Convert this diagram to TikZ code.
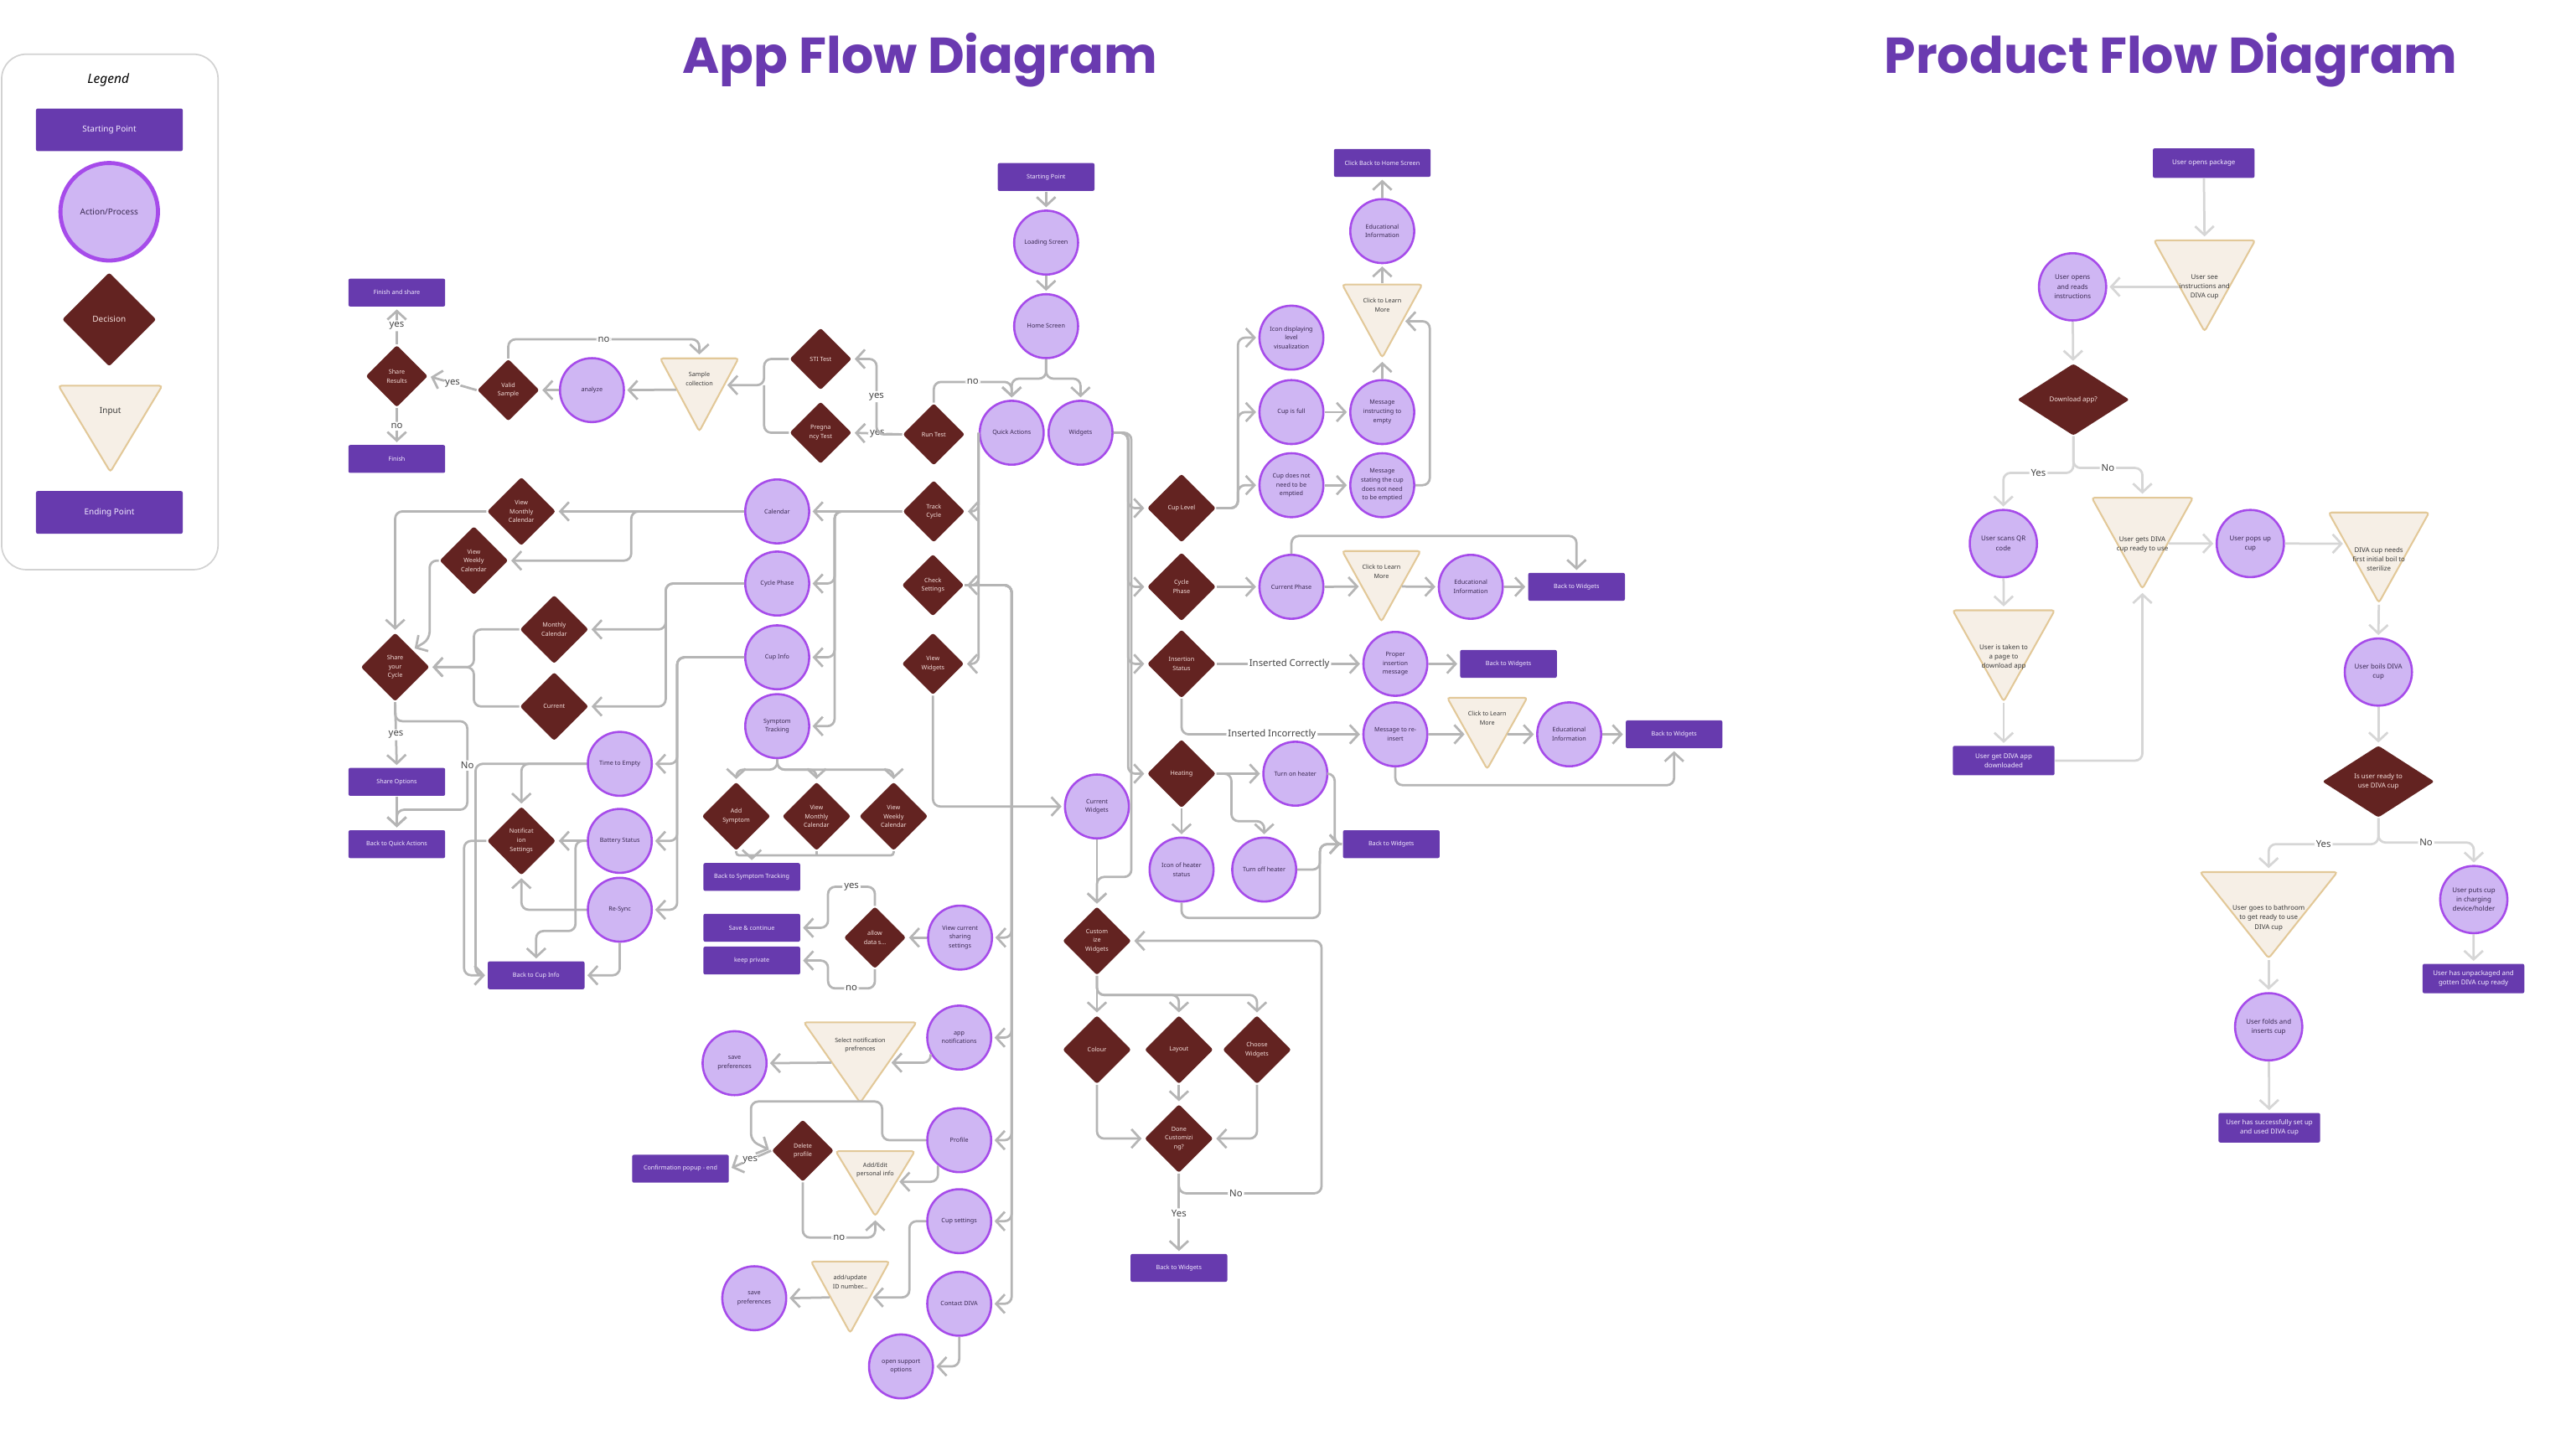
\documentclass[tikz,border=0pt]{standalone}
\usepackage{fontspec}
\setmainfont{Noto Sans}
\newfontfamily\ttlfont{Poppins}
\usetikzlibrary{positioning,arrows.meta,shapes.geometric,calc}
\definecolor{afttl}{HTML}{6A3AB0}
\definecolor{afpurple}{HTML}{673AAE}
\definecolor{afpurpleT}{HTML}{F3ECFF}
\definecolor{afcirc}{HTML}{CFB6F3}
\definecolor{afcircB}{HTML}{A64BEA}
\definecolor{afcircT}{HTML}{3A2A52}
\definecolor{afdec}{HTML}{632321}
\definecolor{afdecT}{HTML}{F4DFDB}
\definecolor{aftri}{HTML}{F6EFE6}
\definecolor{aftriB}{HTML}{E2C898}
\definecolor{aftriT}{HTML}{3A3A3A}
\definecolor{afline}{HTML}{B5B5B5}
\definecolor{pfline}{HTML}{D6D6D6}
\definecolor{aflbl}{HTML}{444444}
\definecolor{lgdB}{HTML}{D2D2D2}

\begin{document}
\begin{tikzpicture}[x=0.02cm, y=-0.02cm,
      font=\fontsize{2.1}{3.1}\selectfont,
      ttl/.style={font=\ttlfont\bfseries\fontsize{17.5}{20}\selectfont, text=afttl},
      endpt/.style={fill=afpurple, text=afpurpleT, minimum width=1.18cm, minimum height=0.34cm,
                    inner sep=0.5pt, align=center, rounded corners=0.6pt},
      act/.style={circle, draw=afcircB, fill=afcirc, line width=0.75pt, minimum size=0.78cm,
                  inner sep=0pt, align=center, text=afcircT},
      dec/.style={diamond, fill=afdec, text=afdecT, minimum size=0.76cm, inner sep=0pt,
                  align=center, rounded corners=0.8pt},
      decL/.style={dec, minimum size=0.84cm},
      inp/.style={rectangle, inner sep=0pt,
                  path picture={\path[draw=aftriB, fill=aftri, line width=0.6pt, rounded corners=1pt]
                    ([shift={(0.35pt,-0.35pt)}]path picture bounding box.north west)
                    -- ([shift={(-0.35pt,-0.35pt)}]path picture bounding box.north east)
                    -- ([yshift=0.45pt]path picture bounding box.south) -- cycle;}},
      inpt/.style={anchor=center, yshift=-0.27cm, align=center, inner sep=0pt, text=aftriT},
      lnk/.style={draw=afline, line width=0.8pt, rounded corners=2.5pt},
      arr/.style={lnk, -{Straight Barb[length=3pt,width=6.5pt]}, shorten >=0.8pt},
      lbl/.style={fill=white, inner sep=0.6pt, text=aflbl, font=\fontsize{3.3}{4}\selectfont},
      pfont/.style={font=\fontsize{2.3}{3.3}\selectfont},
      pend/.style={endpt, pfont, minimum width=1.24cm, minimum height=0.36cm},
      pact/.style={act, pfont, minimum size=0.82cm},
      pdec/.style={dec, pfont, minimum width=1.37cm, minimum height=0.88cm, aspect=1.55},
      pinpt/.style={inpt, pfont, yshift=-0.32cm},
      parr/.style={arr, draw=pfline},
      lgd/.style={font=\fontsize{2.9}{3.5}\selectfont}
    ]
    \useasboundingbox (0,0) rectangle (1568,888);

    % ------------- Legend -------------
    \node[draw=lgdB, line width=0.5pt, rounded corners=0.3cm, minimum width=2.64cm,
          minimum height=6.29cm] (lgdbox) at (67,190.3) {};
    \node[font=\itshape\fontsize{4.5}{5}\selectfont] (lgdttl) at (66,48.7) {Legend};
    \node[endpt, lgd, minimum width=1.79cm, minimum height=0.52cm] (lsp) at (66.7,79.2) {Starting Point};
    \node[act, lgd, minimum size=1.19cm, line width=1.4pt] (lap) at (66.6,129.2) {Action/Process};
    \node[dec, lgd, minimum size=1.15cm] (ldc) at (66.6,194.9) {Decision};
    \node[inp, minimum width=1.29cm, minimum height=1.08cm,
          label={[inpt, lgd, yshift=-0.06cm]north:Input}] (lin) at (67.3,261.7) {};
    \node[endpt, lgd, minimum width=1.79cm, minimum height=0.52cm] (lep) at (66.7,312.6) {Ending Point};

    % ------------- Titles -------------
    \node[ttl] (ttlapp) at (561,36.5) {App Flow Diagram};
    \node[ttl] (ttlprod) at (1324,36.5) {Product Flow Diagram};

    % ------------- App flow: start -------------
    \node[endpt] (start) at (638,108) {Starting Point};
    \node[act] (load) at (638,148) {Loading Screen};
    \node[act] (home) at (638,199) {Home Screen};
    \node[act] (qa) at (617,264) {Quick Actions};
    \node[act] (wid) at (659,264) {Widgets};
    \draw[arr] (start) -- (load);
    \draw[arr] (load) -- (home);
    \draw[arr] (home.south) -- (638,231) -| (qa.north);
    \draw[arr] (home.south) -- (638,231) -| (wid.north);

    % ------------- Run test -------------
    \node[dec] (run) at (569.5,265) {Run Test};
    \node[dec] (sti) at (500.5,219) {STI Test};
    \node[dec] (preg) at (500.5,264) {Pregna\\ncy Test};
    \node[inp, minimum width=0.98cm, minimum height=0.92cm,
          label={[inpt]north:Sample\\collection}] (smp) at (426.5,241) {};
    \node[act] (ana) at (361,238) {analyze};
    \node[dec] (vs) at (310,238) {Valid\\Sample};
    \node[dec] (sr) at (242,229.5) {Share\\Results};
    \node[endpt] (fs) at (242,178.5) {Finish and share};
    \node[endpt] (fin) at (242,280) {Finish};
    \draw[arr] (run.north) |- node[lbl, pos=0.75] {no} (617,233) -- (qa.north);
    \draw[arr] (run.west) -- node[lbl] {yes} (preg.east);
    \draw[arr] (run.west) -- (534.6,265) -- node[lbl] {yes} (534.6,219) -- (sti.east);
    \draw[lnk] (preg.west) -| (466,235);
    \draw[arr] (sti.west) -| (466,235) -- ($(smp.north east)!0.37!(smp.south)$);
    \draw[arr] ($(smp.north west)!0.43!(smp.south)$) -- (ana.east);
    \draw[arr] (ana) -- (vs);
    \draw[arr] (vs.west) -- node[lbl] {yes} (sr.east);
    \draw[arr] (vs.north) |- node[lbl, pos=0.75] {no} (426.5,207) -- (smp.north);
    \draw[arr] (sr.north) -- node[lbl] {yes} (fs.south);
    \draw[arr] (sr.south) -- node[lbl] {no} (fin.north);

    % ------------- Quick actions -------------
    \node[dec] (tc) at (569.5,312) {Track\\Cycle};
    \node[dec] (cs) at (569,357) {Check\\Settings};
    \node[dec] (vw) at (569,405) {View\\Widgets};
    \draw[arr] (qa.west) |- (tc.east);
    \draw[arr] (qa.west) |- (cs.east);
    \draw[arr] (qa.west) |- (vw.east);

    % ------------- Track cycle -------------
    \node[act] (cal) at (474,312) {Calendar};
    \node[act] (cph) at (474,356) {Cycle Phase};
    \node[act] (ci) at (474,401) {Cup Info};
    \node[act] (st) at (474,443) {Symptom\\Tracking};
    \draw[arr] (tc.west) -- (cal.east);
    \draw[arr] (tc.west) -| (509,356) -- (cph.east);
    \draw[arr] (tc.west) -| (509,401) -- (ci.east);
    \draw[arr] (tc.west) -| (509,443) -- (st.east);

    \node[decL] (vmc) at (318,312) {View\\Monthly\\Calendar};
    \node[decL] (vwc) at (289,342) {View\\Weekly\\Calendar};
    \node[decL] (mc) at (338,384) {Monthly\\Calendar};
    \node[decL] (cur) at (338,431) {Current};
    \node[decL] (syc) at (241,407) {Share\\your\\Cycle};
    \node[endpt] (so) at (242,477) {Share Options};
    \node[endpt] (bqa) at (242,515) {Back to Quick Actions};
    \draw[arr] (cal.west) -- (vmc.east);
    \draw[arr] (cal.west) -| (385,342) -- (vwc.east);
    \draw[arr] (vmc.west) -| (syc.north);
    \draw[arr] (vwc.west) -| (262,390) -- (syc.north east);
    \draw[arr] (cph.west) -| (406,384) -- (mc.east);
    \draw[arr] (cph.west) -| (406,431) -- (cur.east);
    \draw[arr] (mc.west) -| (289,407) -- (syc.east);
    \draw[arr] (cur.west) -| (289,407) -- (syc.east);
    \draw[arr] (syc.south) -- node[lbl] {yes} (so.north);
    \draw[arr] (syc.south) |- (285,440) -- node[lbl] {No} (285,494) -| (bqa.north);
    \draw[arr] (so) -- (bqa);

    % ------------- Cup info -------------
    \node[act] (tte) at (378,466) {Time to Empty};
    \node[act] (bat) at (378,513) {Battery Status};
    \node[act] (rsy) at (378,555) {Re-Sync};
    \node[decL] (ns) at (318,513) {Notificat\\ion\\Settings};
    \node[endpt] (bci) at (327,595) {Back to Cup Info};
    \draw[arr] (ci.west) -| (413,466) -- (tte.east);
    \draw[arr] (ci.west) -| (413,513) -- (bat.east);
    \draw[arr] (ci.west) -| (413,555) -- (rsy.east);
    \draw[arr] (tte.west) -| (ns.north);
    \draw[arr] (tte.west) -| (290,595) -- (bci.west);
    \draw[arr] (ns.west) -| (283,595) -- (bci.west);
    \draw[arr] (bat.west) -- (ns.east);
    \draw[arr] (bat.west) -| (351,568) -| (bci.north);
    \draw[arr] (rsy.west) -| (ns.south);
    \draw[arr] (rsy.south) |- (bci.east);

    % ------------- Symptom tracking -------------
    \node[decL] (as) at (449,498) {Add\\Symptom};
    \node[decL] (svm) at (498,498) {View\\Monthly\\Calendar};
    \node[decL] (svw) at (545,498) {View\\Weekly\\Calendar};
    \node[endpt] (bst) at (458.5,535) {Back to Symptom Tracking};
    \coordinate (bstj) at (458.5,521.5);
    \draw[arr] (st.south) -- (474,469.5) -| (as.north);
    \draw[arr] (st.south) -- (474,469.5) -| (svm.north);
    \draw[arr] (st.south) -- (474,469.5) -| (svw.north);
    \draw[lnk, rounded corners=1pt] (as.south) -- ++(0,2.5) -| (svw.south);
    \draw[lnk, rounded corners=1pt] (svm.south) -- ++(0,2.5);
    \draw[arr] (bstj) -- (bst.north);

    % ------------- Check settings -------------
    \node[act] (vcs) at (585.5,572) {View current\\sharing\\settings};
    \node[dec] (ads) at (533.6,572) {allow\\data s...};
    \node[endpt] (sac) at (458.5,566) {Save \& continue};
    \node[endpt] (kp) at (458.5,586) {keep private};
    \node[act] (an) at (585,633) {app\\notifications};
    \node[inp, minimum width=1.4cm, minimum height=1.01cm,
          label={[inpt, yshift=-0.03cm]north:Select notification\\prefrences}] (snp) at (524.6,648.3) {};
    \node[act] (sp1) at (448,648.6) {save\\preferences};
    \node[act] (pr) at (585,695.6) {Profile};
    \node[dec] (dp) at (489.6,702) {Delete\\profile};
    \node[inp, minimum width=0.99cm, minimum height=0.82cm,
          label={[inpt, yshift=0.02cm]north:Add/Edit\\personal info}] (aep) at (533.8,722.2) {};
    \node[endpt] (cpe) at (415,713) {Confirmation popup - end};
    \node[act] (cset) at (585,745) {Cup settings};
    \node[inp, minimum width=0.98cm, minimum height=0.9cm,
          label={[inpt]north:add/update\\ID number...}] (aid) at (518.5,791.5) {};
    \node[act] (sp2) at (460,792) {save\\preferences};
    \node[act] (cd) at (585,795.4) {Contact DIVA};
    \node[act] (oso) at (549.5,833.6) {open support\\options};
    \draw[arr] (cs.east) -| (617,572) -- (vcs.east);
    \draw[arr] (cs.east) -| (617,633) -- (an.east);
    \draw[arr] (cs.east) -| (617,695.6) -- (pr.east);
    \draw[arr] (cs.east) -| (617,745) -- (cset.east);
    \draw[arr] (cs.east) -| (617,795.4) -- (cd.east);
    \draw[arr] (vcs) -- (ads);
    \draw[arr] (ads.north) |- node[lbl, pos=0.75] {yes} (505,541) |- (sac.east);
    \draw[arr] (ads.south) |- node[lbl, pos=0.75] {no} (505,603) |- (kp.east);
    \draw[arr] (an.210) |- ($(snp.north east)!0.5!(snp.south)$);
    \draw[arr] ($(snp.north west)!0.5!(snp.south)$) -- (sp1.east);
    \draw[arr] (pr.west) -| (538,672) -| (458,696) -- (dp.west);
    \draw[arr] (dp.west) -- node[lbl] {yes} (cpe.east);
    \draw[arr] (pr.230) |- ($(aep.north east)!0.47!(aep.south)$);
    \draw[arr] (dp.south) |- node[lbl, pos=0.75] {no} (533.8,755) -- (aep.south);
    \draw[arr] (cset.west) -| (554.6,791.5) -- ($(aid.north east)!0.5!(aid.south)$);
    \draw[arr] ($(aid.north west)!0.5!(aid.south)$) -- (sp2.east);
    \draw[arr] (cd.south) |- (oso.east);

    % ------------- Widgets -------------
    \node[decL] (cl) at (720.6,310) {Cup Level};
    \node[decL] (cyp) at (720.6,358) {Cycle\\Phase};
    \node[decL] (ins) at (720.6,405) {Insertion\\Status};
    \node[decL] (heat) at (720.6,472) {Heating};
    \draw[arr] (wid.east) -| (688,310) -- (cl.west);
    \draw[arr] (wid.east) -| (688,358) -- (cyp.west);
    \draw[arr] (wid.east) -| (688,405) -- (ins.west);
    \draw[arr] (wid.east) -| (688,472) -- (heat.west);

    % cup level
    \node[act] (idl) at (787.6,206) {Icon displaying\\level\\visualization};
    \node[act] (cif) at (787.6,251.4) {Cup is full};
    \node[act] (cdn) at (787.6,296) {Cup does not\\need to be\\emptied};
    \node[act] (mie) at (843,251.4) {Message\\instructing to\\empty};
    \node[act] (msc) at (843,296) {Message\\stating the cup\\does not need\\to be emptied};
    \node[inp, minimum width=1.0cm, minimum height=0.92cm,
          label={[inpt]north:Click to Learn\\More}] (clm1) at (843,196) {};
    \node[act] (edu1) at (843,141) {Educational\\Information};
    \node[endpt] (cbh) at (843,99.4) {Click Back to Home Screen};
    \draw[arr] (cl.east) -| (755,206) -- (idl.west);
    \draw[arr] (cl.east) -| (755,251.4) -- (cif.west);
    \draw[arr] (cl.east) -| (755,296) -- (cdn.west);
    \draw[arr] (cif) -- (mie);
    \draw[arr] (cdn) -- (msc);
    \draw[arr] (mie.north) -- (clm1.south);
    \draw[arr] (msc.east) -| (872,196) -- ($(clm1.north east)!0.5!(clm1.south)$);
    \draw[arr] (clm1.north) -- (edu1.south);
    \draw[arr] (edu1) -- (cbh);

    % cycle phase
    \node[act] (cph2) at (787.6,358) {Current Phase};
    \node[inp, minimum width=0.98cm, minimum height=0.89cm,
          label={[inpt]north:Click to Learn\\More}] (clm2) at (842.5,357.8) {};
    \node[act] (edu2) at (897,358) {Educational\\Information};
    \node[endpt] (bw1) at (961.5,358) {Back to Widgets};
    \draw[arr] (cyp) -- (cph2);
    \draw[arr] (cph2.east) -- ($(clm2.north west)!0.5!(clm2.south)$);
    \draw[arr] ($(clm2.north east)!0.5!(clm2.south)$) -- (edu2.west);
    \draw[arr] (edu2) -- (bw1);
    \draw[arr] (cph2.north) |- (961.5,327) -- (bw1.north);

    % insertion status
    \node[act] (pim) at (851,405) {Proper\\insertion\\message};
    \node[endpt] (bw2) at (920,405) {Back to Widgets};
    \node[act] (mri) at (851,448) {Message to re-\\insert};
    \node[inp, minimum width=1.0cm, minimum height=0.9cm,
          label={[inpt]north:Click to Learn\\More}] (clm3) at (907,447.5) {};
    \node[act] (edu3) at (957,448) {Educational\\Information};
    \node[endpt] (bw3) at (1021,448) {Back to Widgets};
    \draw[arr] (ins.east) -- node[lbl] {Inserted Correctly} (pim.west);
    \draw[arr] (pim) -- (bw2);
    \draw[arr] (ins.south) |- node[lbl, pos=0.75] {Inserted Incorrectly} (mri.west);
    \draw[arr] (mri.east) -- ($(clm3.north west)!0.51!(clm3.south)$);
    \draw[arr] ($(clm3.north east)!0.51!(clm3.south)$) -- (edu3.west);
    \draw[arr] (edu3) -- (bw3);
    \draw[arr] (mri.south) |- (1021,479) -- (bw3.south);

    % heating
    \node[act] (toh) at (790,472) {Turn on heater};
    \node[act] (ihs) at (720.6,530.5) {Icon of heater\\status};
    \node[act] (tfh) at (771,530.5) {Turn off heater};
    \node[endpt] (bw4) at (848.5,515) {Back to Widgets};
    \draw[arr] (heat) -- (toh);
    \draw[arr] (heat.east) -| (751,501) -| (tfh.north);
    \draw[arr] (heat) -- (ihs);
    \draw[arr] (toh.east) -| (814,515) -- (bw4.west);
    \draw[arr] (tfh.east) -| (805,515) -- (bw4.west);
    \draw[arr] (ihs.south) |- (805,560) |- (bw4.west);

    % customize widgets
    \node[act] (cw) at (669,492) {Current\\Widgets};
    \node[decL] (cuw) at (669,574) {Custom\\ize\\Widgets};
    \node[decL] (col) at (669,640.4) {Colour};
    \node[decL] (lay) at (719,640.4) {Layout};
    \node[decL] (chw) at (766.6,640.4) {Choose\\Widgets};
    \node[decL] (dcz) at (719,694.6) {Done\\Customizi\\ng?};
    \node[endpt] (bw5) at (719,773.5) {Back to Widgets};
    \draw[arr] (vw.south) |- (cw.west);
    \draw[arr] (cw) -- (cuw);
    \draw[arr] (wid.east) -| (690,535) -| (cuw.north);
    \draw[arr] (cuw) -- (col);
    \draw[arr] (cuw.south) -- (669,607) -| (lay.north);
    \draw[arr] (cuw.south) -- (669,607) -| (chw.north);
    \draw[arr] (col.south) |- (dcz.west);
    \draw[arr] (lay) -- (dcz);
    \draw[arr] (chw.south) |- (dcz.east);
    \draw[arr] (dcz) -- node[lbl] {Yes} (bw5);
    \draw[arr] (dcz.south) |- node[lbl, pos=0.7] {No} (806,728) |- (cuw.east);

    % ------------- Product flow -------------
    \node[pend] (upk) at (1344,99.5) {User opens package};
    \node[inp, minimum width=1.26cm, minimum height=1.14cm,
          label={[pinpt]north:User see\\instructions and\\DIVA cup}] (usi) at (1344.5,174.5) {};
    \node[pact] (uor) at (1264,175) {User opens\\and reads\\instructions};
    \node[pdec] (dla) at (1264.5,243.8) {Download app?};
    \node[pact] (uqr) at (1221.8,331.6) {User scans QR\\code};
    \node[inp, minimum width=1.26cm, minimum height=1.14cm,
          label={[pinpt]north:User gets DIVA\\cup ready to use}] (ugd) at (1306.6,331.5) {};
    \node[pact] (upu) at (1372.4,331.6) {User pops up\\cup};
    \node[inp, minimum width=1.25cm, minimum height=1.13cm,
          label={[pinpt]north:DIVA cup needs\\first initial boil to\\sterilize}] (ubn) at (1450.8,340.3) {};
    \node[inp, minimum width=1.27cm, minimum height=1.14cm,
          label={[pinpt]north:User is taken to\\a page to\\download app}] (utp) at (1222,400.2) {};
    \node[pend] (uad) at (1222,464) {User get DIVA app\\downloaded};
    \node[pact] (ubc) at (1450.5,410) {User boils DIVA\\cup};
    \node[pdec] (urd) at (1450.5,476.8) {Is user ready to\\use DIVA cup};
    \node[inp, minimum width=1.7cm, minimum height=1.08cm,
          label={[pinpt, yshift=0.01cm]north:User goes to bathroom\\to get ready to use\\DIVA cup}] (ugb) at (1383.6,558.4) {};
    \node[pact] (upc) at (1508.7,548.8) {User puts cup\\in charging\\device/holder};
    \node[pend] (uup) at (1508.5,597) {User has unpackaged and\\gotten DIVA cup ready};
    \node[pact] (ufi) at (1383.6,626.4) {User folds and\\inserts cup};
    \node[pend] (usu) at (1384,688) {User has successfully set up\\and used DIVA cup};

    \draw[parr] (upk) -- (usi.north);
    \draw[parr] ($(usi.north west)!0.51!(usi.south)$) -- (uor.east);
    \draw[parr] (uor) -- (dla);
    \draw[parr] (dla.south) -- (1264.5,288.5) -| node[lbl, pos=0.25] {Yes} (uqr.north);
    \draw[parr] (dla.south) -- (1264.5,285.5) -| node[lbl, pos=0.25] {No} (ugd.north);
    \draw[parr] (uqr) -- (utp.north);
    \draw[parr] (utp.south) -- (uad.north);
    \draw[parr] (uad.east) -| (ugd.south);
    \draw[parr] ($(ugd.north east)!0.5!(ugd.south)$) -- (upu.west);
    \draw[parr] (upu.east) -- ($(ubn.north west)!0.35!(ubn.south)$);
    \draw[parr] (ubn.south) -- (ubc.north);
    \draw[parr] (ubc) -- (urd);
    \draw[parr] (urd.south) -- (1450.5,515) -| node[lbl, pos=0.25] {Yes} (ugb.north);
    \draw[parr] (urd.south) -- (1450.5,514) -| node[lbl, pos=0.25] {No} (upc.north);
    \draw[parr] (ugb.south) -- (ufi.north);
    \draw[parr] (ufi) -- (usu);
    \draw[parr] (upc) -- (uup);
  \end{tikzpicture}
\end{document}
